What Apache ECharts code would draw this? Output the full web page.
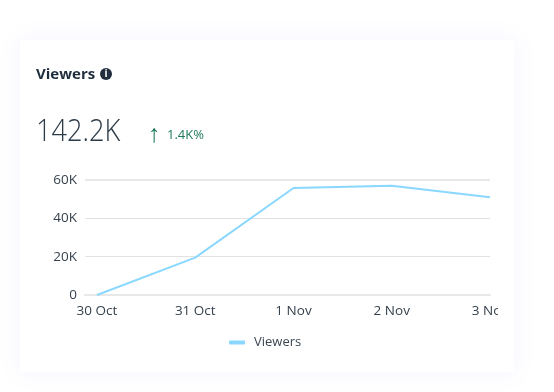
<!DOCTYPE html>
<html>
<head>
<meta charset="utf-8">
<style>
  html, body { margin: 0; background: #fff; overflow: hidden; }
  .card {
    position: absolute; left: 20px; top: 40px; width: 494px; height: 332px;
    background: #fff; border-radius: 4px;
    box-shadow: 0 0 24px rgba(110, 120, 255, 0.08);
  }
  #chart { position: absolute; left: 36px; top: 40px; width: 462px; height: 332px; }
</style>
</head>
<body>
<div class="card"></div>
<div id="chart"></div>
<script src="https://cdn.jsdelivr.net/npm/echarts@6/dist/echarts.min.js"></script>
<script>
const categories = ['30 Oct', '31 Oct', '1 Nov', '2 Nov', '3 Nov']
const positions = [0, 1, 2, 3, 4]
const viewers = [0, 19500, 55800, 57000, 51000]
const yMax = 60000

const fontFamily = '"Open Sans", "Noto Sans", sans-serif'
const chart = echarts.init(document.getElementById('chart'))

chart.setOption({
  animation: false,
  textStyle: { fontFamily },
  title: [
    {
      text: 'Viewers',
      left: 0,
      top: 27,
      padding: 0,
      textStyle: { color: '#1f2d3d', fontSize: 15, fontWeight: 700, fontFamily }
    },
    {
      text: '1.4K%',
      left: 131,
      top: 89,
      padding: 0,
      textStyle: { color: '#1f7a5c', fontSize: 13, fontWeight: 400, fontFamily }
    }
  ],
  graphic: [
    {
      type: 'circle',
      shape: { cx: 70, cy: 34, r: 6 },
      style: { fill: '#1f2d3d' }
    },
    {
      type: 'text',
      style: {
        x: 70, y: 34, text: 'i', align: 'center', verticalAlign: 'middle',
        fill: '#fff', font: '700 10px "Open Sans"'
      }
    },
    {
      // the big number is narrower than Open Sans Light, so squeeze it a bit
      type: 'text',
      x: 0,
      y: 92,
      scaleX: 0.85,
      style: {
        x: 0, y: 0, text: '142.2K', verticalAlign: 'middle',
        fill: '#2b3a47', font: '300 32px "Open Sans"'
      }
    },
    {
      type: 'text',
      x: 118,
      y: 95,
      style: {
        x: 0, y: 0, text: '↑', align: 'center', verticalAlign: 'middle',
        fill: '#1f7a5c', font: '400 25px "Liberation Sans"'
      }
    }
  ],
  legend: {
    data: ['Viewers'],
    left: 193,
    top: 296,
    padding: 0,
    icon: 'roundRect',
    itemWidth: 16,
    itemHeight: 4,
    textStyle: { color: '#3a4652', fontSize: 13, padding: [0, 0, 0, 4] }
  },
  grid: { left: 49, right: 8, top: 140, height: 115, outerBoundsMode: 'none' },
  xAxis: {
    type: 'value',
    min: -0.122,
    max: 4,
    axisLine: { show: true, onZero: false, lineStyle: { color: '#e8e8e8', width: 2 } },
    axisTick: { show: false },
    splitLine: { show: false },
    axisLabel: {
      customValues: positions,
      formatter: v => categories[v],
      color: '#36424e',
      fontSize: 13.5,
      margin: 9,
      hideOverlap: false
    }
  },
  yAxis: {
    type: 'value',
    min: 0,
    max: yMax,
    interval: 20000,
    axisLine: { show: false },
    axisTick: { show: false },
    axisLabel: {
      formatter: v => (v > 0 ? v / 1000 + 'K' : '0'),
      color: '#36424e',
      fontSize: 13.5,
      margin: 8,
      padding: [2, 0, 0, 0]
    },
    splitLine: { lineStyle: { color: '#e2e2e2', width: 1 } }
  },
  series: [
    {
      name: 'Viewers',
      type: 'line',
      data: viewers.map((v, i) => [positions[i], v]),
      showSymbol: false,
      clip: false,
      lineStyle: { color: '#8ad8ff', width: 2 },
      itemStyle: { color: '#8ad8ff' },
      markLine: {
        silent: true,
        symbol: 'none',
        label: { show: false },
        lineStyle: { color: '#e8e8e8', width: 2, type: 'solid' },
        data: [{ yAxis: yMax }],
        z: 1
      }
    }
  ]
})
</script>
</body>
</html>
